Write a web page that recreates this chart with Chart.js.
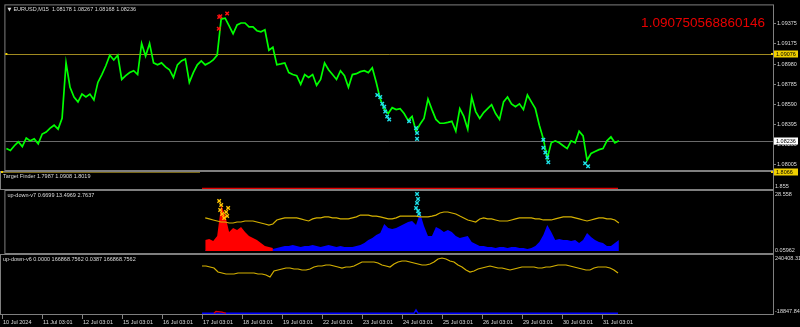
<!DOCTYPE html>
<html>
<head>
<meta charset="utf-8">
<script src="https://cdn.jsdelivr.net/npm/chart.js@4.4.1/dist/chart.umd.min.js"></script>
<style>
    html, body { margin: 0; padding: 0; background: #000; overflow: hidden; }
    #wrap { position: relative; width: 800px; height: 327px; }
    #wrap canvas { position: absolute; left: 0; top: 0; width: 800px; height: 327px; }
</style>
</head>
<body>
<div id="wrap">
    <canvas id="main-chart" width="800" height="327"></canvas>
    <canvas id="tf-chart" width="800" height="327"></canvas>
    <canvas id="v7-chart" width="800" height="327"></canvas>
    <canvas id="v6-chart" width="800" height="327"></canvas>
</div>
<script>
// 时间轴标签 (每个交易日一个)
const dayLabels = ['10 Jul 2024', '11 Jul 03:01', '12 Jul 03:01', '15 Jul 03:01', '16 Jul 03:01',
    '17 Jul 03:01', '18 Jul 03:01', '19 Jul 03:01', '22 Jul 03:01', '23 Jul 03:01', '24 Jul 03:01',
    '25 Jul 03:01', '26 Jul 03:01', '29 Jul 03:01', '30 Jul 03:01', '31 Jul 03:01'];

// 每个数据点 = 0.1 交易日
const STEP = 0.1;
const X_MIN = -0.025;
const X_MAX = 19.275;
const IND_START = 50; // 指标从第50个点开始

// 主图 EURUSD,M15 价格
const priceValues = [
    1.08163, 1.08144, 1.08191, 1.08229, 1.08182, 1.08266, 1.08238, 1.08257, 1.08210, 1.08304,
    1.08323, 1.08361, 1.08389, 1.08351, 1.08455, 1.08992, 1.08756, 1.08662, 1.08615, 1.08690,
    1.08662, 1.08690, 1.08634, 1.08803, 1.08879, 1.08964, 1.09067, 1.09020, 1.09067, 1.08832,
    1.08869, 1.08898, 1.08916, 1.08879, 1.09180, 1.09058, 1.09180, 1.08992, 1.08973, 1.08992,
    1.08954, 1.08926, 1.08851, 1.08973, 1.09011, 1.09030, 1.08803, 1.08898, 1.08973, 1.09011,
    1.08973, 1.08992, 1.09020, 1.09067, 1.09416, 1.09425, 1.09350, 1.09274, 1.09359, 1.09378,
    1.09378, 1.09340, 1.09340, 1.09303, 1.09293, 1.09312, 1.09114, 1.09143, 1.08973, 1.08982,
    1.08992, 1.08898, 1.08879, 1.08869, 1.08785, 1.08879, 1.08851, 1.08879, 1.08775, 1.08832,
    1.08992, 1.08926, 1.08879, 1.08832, 1.08916, 1.08869, 1.08756, 1.08879, 1.08888, 1.08907,
    1.08916, 1.08898, 1.08945, 1.08803, 1.08643, 1.08549, 1.08502, 1.08559, 1.08540, 1.08549,
    1.08502, 1.08436, 1.08474, 1.08332, 1.08398, 1.08455, 1.08643, 1.08540, 1.08445, 1.08408,
    1.08408, 1.08417, 1.08427, 1.08332, 1.08549, 1.08474, 1.08351, 1.08662, 1.08521, 1.08455,
    1.08511, 1.08549, 1.08587, 1.08502, 1.08445, 1.08615, 1.08662, 1.08596, 1.08568, 1.08596,
    1.08540, 1.08681, 1.08615, 1.08549, 1.08389, 1.08257, 1.08069, 1.08219, 1.08238, 1.08219,
    1.08191, 1.08163, 1.08238, 1.08219, 1.08332, 1.08285, 1.08050, 1.08116, 1.08135, 1.08153,
    1.08163, 1.08238, 1.08276, 1.08219, 1.08238
];
const priceTicks = [1.09375, 1.09175, 1.08980, 1.08785, 1.08590, 1.08395, 1.08200, 1.08005];
const PRICE_MIN = 1.07956;
const PRICE_MAX = 1.09548;
const levelPrices = [1.09076, 1.08236];

// 主图上的箭头标记
const redMarkDays = [5.35, 5.38, 5.55, 5.34];
const redMarkPrices = [1.09435, 1.09444, 1.09469, 1.09322];
const cyanMarkDays = [9.325, 9.4, 9.45, 9.5, 9.525, 9.575, 9.625, 10.125, 10.3, 10.325, 10.325,
    13.5, 13.5, 13.55, 13.6, 13.625, 14.55, 14.625];
const cyanMarkPrices = [1.08681, 1.08662, 1.08596, 1.08568, 1.08521, 1.08474, 1.08445, 1.08427, 1.08361,
    1.08314, 1.08257, 1.08248, 1.08172, 1.08125, 1.08078, 1.08031, 1.08022, 1.07993];

// Target Finder
const TF_MIN = 1.7985;
const TF_MAX = 1.8066;
const tfLevel = 1.8066;
const tfYellowDays = [X_MIN, 4.95];
const tfYellowValues = [1.8066, 1.8066];
const tfRedDays = [5.0, 15.4];
const tfRedValues = [1.7987, 1.7987];

// up-down-v7
const V7_MIN = -0.99;
const V7_MAX = 29.39;
const v7Yellow = [
    16.2, 15.7, 15.2, 14.7, 14.2, 14.2, 13.7, 13.7, 14.2, 14.2,
    14.7, 14.7, 14.7, 14.2, 13.7, 13.2, 12.7, 13.2, 15.2, 15.7,
    16.2, 16.2, 16.2, 16.2, 15.7, 15.2, 14.7, 15.7, 16.2, 16.2,
    16.7, 16.7, 16.2, 16.2, 15.7, 15.7, 15.7, 16.2, 16.7, 17.6,
    17.6, 17.6, 17.1, 17.1, 16.7, 16.2, 15.7, 15.7, 16.2, 17.1,
    17.1, 17.1, 17.1, 17.1, 16.7, 16.7, 16.7, 17.1, 17.6, 18.6,
    19.1, 19.1, 18.6, 18.1, 17.1, 16.2, 15.2, 14.7, 14.2, 15.7,
    16.2, 15.7, 15.7, 15.2, 14.7, 14.7, 14.7, 15.2, 15.7, 16.2,
    16.2, 16.2, 16.2, 15.7, 15.7, 15.2, 15.2, 15.2, 15.7, 16.2,
    16.7, 16.7, 16.7, 16.2, 15.7, 15.2, 14.7, 15.2, 15.7, 16.2,
    16.2, 15.7, 15.7, 15.2, 13.7
];
const v7Red = [5.4, 5.9, 4.9, 7.3, 22.5, 17.6, 9.3, 11.3, 10.3, 11.8, 9.3, 7.3, 6.4, 5.4, 3.9, 2.5, 2.0, 1.5];
const v7Blue = [
    0.5, 0.5, 0.5, 0.5, 0.5, 0.5, 0.5, 0.5, 0.5, 0.5, 0.5, 0.5, 0.5, 0.5, 0.5, 0.5,
    0.5, 1.0, 1.5, 2.0, 2.5, 2.5, 2.9, 2.5, 2.0, 2.5,
    2.5, 2.9, 2.5, 2.0, 2.5, 2.9, 2.5, 2.0, 2.5, 2.0,
    2.0, 2.0, 2.5, 2.9, 3.9, 5.4, 6.4, 7.8, 8.8, 13.2,
    11.3, 10.8, 11.3, 12.3, 13.2, 14.2, 14.7, 12.7, 18.6, 12.3,
    7.3, 7.3, 11.8, 10.8, 9.3, 10.3, 9.3, 7.3, 6.4, 6.9,
    7.3, 4.4, 3.4, 2.5, 2.5, 2.0, 2.0, 1.5, 2.0, 2.0,
    1.5, 2.0, 2.0, 1.5, 1.5, 1.0, 1.5, 2.5, 4.4, 7.8,
    12.7, 9.3, 5.4, 5.9, 5.4, 5.4, 4.9, 5.4, 3.9, 5.4,
    8.8, 6.9, 5.4, 4.4, 3.9, 2.5, 2.5, 3.9, 5.4
];
const v7YellowMarkDays = [5.35, 5.4, 5.375, 5.425, 5.475, 5.525, 5.575, 5.55];
const v7YellowMarkValues = [24.5, 22.5, 20.1, 18.1, 16.2, 19.1, 21.1, 17.1];
const v7CyanMarkDays = [10.325, 10.35, 10.325, 10.3, 10.35, 10.375];
const v7CyanMarkValues = [27.9, 25.5, 23.5, 21.1, 19.6, 18.1];

// up-down-v6
const V6_MIN = -3018;
const V6_MAX = 244605;
const v6Yellow = [
    198400, 198400, 194200, 190000, 173300, 169100, 164900, 164900, 164900, 169100,
    169100, 169100, 169100, 169100, 164900, 164900, 160700, 152300, 177500, 181700,
    185800, 190000, 190000, 185800, 185800, 181700, 181700, 185800, 194200, 198400,
    198400, 202600, 202600, 198400, 194200, 190000, 194200, 194200, 198400, 206800,
    215200, 215200, 215200, 215200, 211000, 202600, 198400, 194200, 206800, 215200,
    219400, 219400, 215200, 211000, 206800, 202600, 202600, 206800, 215200, 227800,
    232000, 227800, 219400, 215200, 202600, 194200, 181700, 173300, 177500, 185800,
    190000, 194200, 198400, 194200, 190000, 190000, 185800, 181700, 185800, 190000,
    194200, 194200, 194200, 194200, 190000, 190000, 194200, 194200, 198400, 202600,
    202600, 202600, 198400, 194200, 190000, 185800, 181700, 181700, 190000, 194200,
    194200, 194200, 190000, 181700, 169100
];
const v6BlueDays = [5.0, 10.3, 10.35, 10.4, 15.4];
const v6BlueValues = [0, 0, 14000, 0, 0];
const v6RedDays = [5.3, 5.35, 5.5, 5.6];
const v6RedValues = [0, 8000, 5000, 0];

// 样式
const FONT = '"Liberation Sans", Arial, sans-serif';
const FRAME_COLOR = '#7f7f7f';
const TEXT_COLOR = '#dcdcdc';
const AXIS_WIDTH = 27;

// 数组 -> 点
function toSeries(values, startIndex) {
    return values.map((v, k) => ({ x: (startIndex + k) * STEP, y: v }));
}

function toPairs(days, values) {
    return days.map((d, k) => ({ x: d, y: values[k] }));
}

function lineSet(data, color, width) {
    return { data, borderColor: color, borderWidth: width, pointRadius: 0, tension: 0, fill: false };
}

function areaSet(data, color) {
    return { data, borderColor: color, borderWidth: 0, backgroundColor: color, pointRadius: 0, tension: 0, fill: 'origin' };
}

function markSet(data, color) {
    return {
        data, showLine: false, pointStyle: 'crossRot', pointRadius: 2.5,
        borderColor: color, borderWidth: 1.4, backgroundColor: color
    };
}

// 边框、标题、水平线和右侧标签
const panelDecor = {
    id: 'panelDecor',
    beforeDatasetsDraw(chart, args, opts) {
        const { ctx, chartArea: a } = chart;
        const y = chart.scales.y;
        (opts.levels || []).forEach(lv => {
            if (!lv.line) return;
            const py = Math.round(y.getPixelForValue(lv.value)) + 0.5;
            ctx.save();
            ctx.strokeStyle = lv.line;
            ctx.lineWidth = 1;
            ctx.beginPath();
            ctx.moveTo(a.left, py);
            ctx.lineTo(a.right, py);
            ctx.stroke();
            ctx.restore();
        });
    },
    afterDraw(chart, args, opts) {
        const { ctx, chartArea: a } = chart;
        const y = chart.scales.y;
        ctx.save();
        ctx.strokeStyle = FRAME_COLOR;
        ctx.lineWidth = 1;
        ctx.strokeRect(a.left - 0.5, a.top - 0.5, a.right - a.left + 1, a.bottom - a.top + 1);

        ctx.font = `5.5px ${FONT}`;
        ctx.textBaseline = 'middle';
        ctx.textAlign = 'left';

        if (opts.title) {
            let x = a.left + 2;
            if (opts.arrow) {
                ctx.fillStyle = TEXT_COLOR;
                ctx.font = '5px "DejaVu Sans", sans-serif';
                ctx.fillText('▼', x, a.top + 4.5);
                ctx.font = `5.5px ${FONT}`;
                x += 6;
            }
            ctx.fillStyle = TEXT_COLOR;
            ctx.fillText(opts.title, x, a.top + 4.5);
        }

        (opts.sideLabels || []).forEach(s => {
            const py = s.at === 'top' ? a.top + 3 : a.bottom - 3;
            ctx.fillStyle = TEXT_COLOR;
            ctx.fillText(s.text, a.right + 2, py);
        });

        (opts.levels || []).forEach(lv => {
            const py = Math.round(y.getPixelForValue(lv.value));
            ctx.fillStyle = lv.box;
            ctx.fillRect(a.right + 1, py - 3.5, 24, 7);
            if (lv.anchors) {
                ctx.fillRect(a.left, py - 1, 2, 2);
                ctx.fillRect(a.right - 2, py - 1, 2, 2);
            }
            ctx.fillStyle = '#000';
            ctx.fillText(lv.value.toFixed(lv.digits), a.right + 3, py + 0.5);
        });

        if (opts.note) {
            ctx.font = `13.5px ${FONT}`;
            ctx.textAlign = 'right';
            ctx.textBaseline = 'alphabetic';
            ctx.fillStyle = '#e80000';
            ctx.fillText(opts.note, a.right - 8, a.top + 21.5);
        }
        ctx.restore();
    }
};

// 公共坐标轴
function xScale(show) {
    const scale = {
        type: 'linear', min: X_MIN, max: X_MAX, display: show,
        afterFit(s) { s.paddingLeft = 0; s.paddingRight = 0; }
    };
    if (show) {
        Object.assign(scale, {
            position: 'bottom',
            afterBuildTicks(s) { s.ticks = dayLabels.map((_, i) => ({ value: i })); },
            afterFit(s) { s.height = 13; s.paddingLeft = 0; s.paddingRight = 0; },
            ticks: {
                autoSkip: false, maxRotation: 0, minRotation: 0, align: 'start',
                labelOffset: 1, padding: 0, color: TEXT_COLOR,
                font: { family: FONT, size: 5.5 },
                callback: (v, i) => dayLabels[i]
            },
            grid: { drawOnChartArea: false, drawTicks: true, tickLength: 5, color: FRAME_COLOR },
            border: { display: false }
        });
    }
    return scale;
}

function yScale(min, max, ticks, digits) {
    return {
        type: 'linear', position: 'right', min, max,
        afterBuildTicks(s) { s.ticks = (ticks || []).map(v => ({ value: v })); },
        afterFit(s) { s.width = AXIS_WIDTH; s.paddingTop = 0; s.paddingBottom = 0; },
        ticks: {
            color: TEXT_COLOR, padding: 1, font: { family: FONT, size: 5.5 },
            callback: v => v.toFixed(digits)
        },
        grid: { drawOnChartArea: false, drawTicks: true, tickLength: 3, color: FRAME_COLOR },
        border: { display: false }
    };
}

function makePanel(canvasId, datasets, padding, scales, decor) {
    return new Chart(document.getElementById(canvasId), {
        type: 'line',
        data: { datasets },
        options: {
            responsive: false,
            animation: false,
            events: [],
            layout: { padding },
            scales,
            plugins: { legend: { display: false }, tooltip: { enabled: false }, panelDecor: decor }
        },
        plugins: [panelDecor]
    });
}

// 主图
makePanel('main-chart', [
    markSet(toPairs(redMarkDays, redMarkPrices), '#ff1010'),
    markSet(toPairs(cyanMarkDays, cyanMarkPrices), '#1ee0e8'),
    lineSet(toSeries(priceValues, 0), '#00ff00', 1.7)
], { top: 1, bottom: 157, left: 1, right: 0 }, {
    x: xScale(false),
    y: yScale(PRICE_MIN, PRICE_MAX, priceTicks, 5)
}, {
    title: 'EURUSD,M15  1.08178 1.08267 1.08168 1.08236',
    arrow: true,
    note: '1.090750568860146',
    levels: [
        { value: levelPrices[0], digits: 5, line: '#a08a20', box: '#f0d000', anchors: true },
        { value: levelPrices[1], digits: 5, line: '#6a6a6a', box: '#ffffff', anchors: false }
    ]
});

// Target Finder
makePanel('tf-chart', [
    lineSet(toPairs(tfYellowDays, tfYellowValues), '#a08a20', 1.5),
    lineSet(toPairs(tfRedDays, tfRedValues), '#e00000', 1.5)
], { top: 172, bottom: 138, left: 1, right: 0 }, {
    x: xScale(false),
    y: yScale(TF_MIN, TF_MAX, [], 4)
}, {
    title: 'Target Finder 1.7987 1.0908 1.8019',
    sideLabels: [{ text: '1.855', at: 'bottom' }],
    levels: [{ value: tfLevel, digits: 4, line: null, box: '#f0d000', anchors: true }]
});

// up-down-v7
makePanel('v7-chart', [
    markSet(toPairs(v7CyanMarkDays, v7CyanMarkValues), '#1ee0e8'),
    markSet(toPairs(v7YellowMarkDays, v7YellowMarkValues), '#ffc400'),
    lineSet(toSeries(v7Yellow, IND_START), '#d4b000', 1.2),
    areaSet(toSeries(v7Red, IND_START), '#ff0000'),
    areaSet(toSeries(v7Blue, IND_START), '#0000ff')
], { top: 191, bottom: 74, left: 1, right: 0 }, {
    x: xScale(false),
    y: yScale(V7_MIN, V7_MAX, [], 3)
}, {
    title: 'up-down-v7 0.6699 13.4969 2.7637',
    sideLabels: [{ text: '28.558', at: 'top' }, { text: '0.05962', at: 'bottom' }]
});

// up-down-v6
makePanel('v6-chart', [
    lineSet(toSeries(v6Yellow, IND_START), '#d4b000', 1.2),
    lineSet(toPairs(v6RedDays, v6RedValues), '#e00000', 1.2),
    lineSet(toPairs(v6BlueDays, v6BlueValues), '#0000ff', 1.5)
], { top: 255, bottom: 0, left: 1, right: 0 }, {
    x: xScale(true),
    y: yScale(V6_MIN, V6_MAX, [], 2)
}, {
    title: 'up-down-v6 0.0000 166868.7562 0.0387 166868.7562',
    sideLabels: [{ text: '240408.31', at: 'top' }, { text: '-18847.843', at: 'bottom' }]
});
</script>
</body>
</html>
